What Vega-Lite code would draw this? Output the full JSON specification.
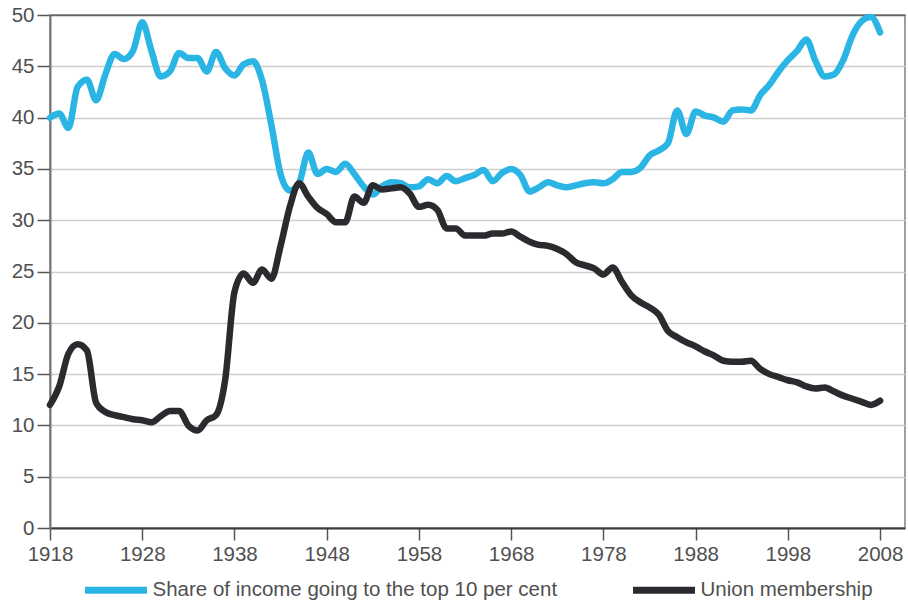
{
  "$schema": "https://vega.github.io/schema/vega-lite/v6.json",
  "width": 855,
  "height": 513,
  "autosize": {"type": "none"},
  "padding": {"left": 50, "top": 15, "right": 3, "bottom": 75},
  "background": "white",
  "config": {"view": {"stroke": "#808080", "strokeWidth": 1.5}, "font": "Liberation Sans"},
  "data": {"values": [
    {"year": 1918, "share": 40.0, "union": 12.0},
    {"year": 1919, "share": 40.4, "union": 13.8},
    {"year": 1920, "share": 39.0, "union": 17.0},
    {"year": 1921, "share": 43.0, "union": 17.9},
    {"year": 1922, "share": 43.7, "union": 17.3},
    {"year": 1923, "share": 41.7, "union": 12.2},
    {"year": 1924, "share": 44.2, "union": 11.3},
    {"year": 1925, "share": 46.2, "union": 11.0},
    {"year": 1926, "share": 45.7, "union": 10.8},
    {"year": 1927, "share": 46.5, "union": 10.6},
    {"year": 1928, "share": 49.3, "union": 10.5},
    {"year": 1929, "share": 46.5, "union": 10.3},
    {"year": 1930, "share": 44.0, "union": 10.9},
    {"year": 1931, "share": 44.5, "union": 11.4},
    {"year": 1932, "share": 46.3, "union": 11.4},
    {"year": 1933, "share": 45.8, "union": 10.0},
    {"year": 1934, "share": 45.8, "union": 9.5},
    {"year": 1935, "share": 44.5, "union": 10.5},
    {"year": 1936, "share": 46.4, "union": 11.0},
    {"year": 1937, "share": 44.8, "union": 14.5},
    {"year": 1938, "share": 44.1, "union": 23.0},
    {"year": 1939, "share": 45.2, "union": 24.8},
    {"year": 1940, "share": 45.5, "union": 23.9},
    {"year": 1941, "share": 43.6, "union": 25.2},
    {"year": 1942, "share": 39.3, "union": 24.3},
    {"year": 1943, "share": 34.5, "union": 27.5},
    {"year": 1944, "share": 32.9, "union": 31.3},
    {"year": 1945, "share": 33.6, "union": 33.6},
    {"year": 1946, "share": 36.6, "union": 32.3},
    {"year": 1947, "share": 34.5, "union": 31.2},
    {"year": 1948, "share": 35.0, "union": 30.6},
    {"year": 1949, "share": 34.7, "union": 29.8},
    {"year": 1950, "share": 35.5, "union": 29.8},
    {"year": 1951, "share": 34.5, "union": 32.3},
    {"year": 1952, "share": 33.3, "union": 31.7},
    {"year": 1953, "share": 32.5, "union": 33.4},
    {"year": 1954, "share": 33.3, "union": 33.0},
    {"year": 1955, "share": 33.7, "union": 33.1},
    {"year": 1956, "share": 33.6, "union": 33.2},
    {"year": 1957, "share": 33.2, "union": 32.6},
    {"year": 1958, "share": 33.3, "union": 31.3},
    {"year": 1959, "share": 34.0, "union": 31.5},
    {"year": 1960, "share": 33.6, "union": 31.0},
    {"year": 1961, "share": 34.3, "union": 29.2},
    {"year": 1962, "share": 33.8, "union": 29.2},
    {"year": 1963, "share": 34.1, "union": 28.5},
    {"year": 1964, "share": 34.4, "union": 28.5},
    {"year": 1965, "share": 34.9, "union": 28.5},
    {"year": 1966, "share": 33.8, "union": 28.7},
    {"year": 1967, "share": 34.6, "union": 28.7},
    {"year": 1968, "share": 35.0, "union": 28.9},
    {"year": 1969, "share": 34.4, "union": 28.4},
    {"year": 1970, "share": 32.8, "union": 27.9},
    {"year": 1971, "share": 33.2, "union": 27.6},
    {"year": 1972, "share": 33.7, "union": 27.5},
    {"year": 1973, "share": 33.4, "union": 27.2},
    {"year": 1974, "share": 33.2, "union": 26.7},
    {"year": 1975, "share": 33.4, "union": 25.9},
    {"year": 1976, "share": 33.6, "union": 25.6},
    {"year": 1977, "share": 33.7, "union": 25.3},
    {"year": 1978, "share": 33.6, "union": 24.7},
    {"year": 1979, "share": 34.0, "union": 25.4},
    {"year": 1980, "share": 34.7, "union": 24.0},
    {"year": 1981, "share": 34.7, "union": 22.7},
    {"year": 1982, "share": 35.1, "union": 22.0},
    {"year": 1983, "share": 36.3, "union": 21.5},
    {"year": 1984, "share": 36.8, "union": 20.8},
    {"year": 1985, "share": 37.5, "union": 19.2},
    {"year": 1986, "share": 40.7, "union": 18.6},
    {"year": 1987, "share": 38.4, "union": 18.1},
    {"year": 1988, "share": 40.6, "union": 17.7},
    {"year": 1989, "share": 40.2, "union": 17.2},
    {"year": 1990, "share": 40.0, "union": 16.8},
    {"year": 1991, "share": 39.6, "union": 16.3},
    {"year": 1992, "share": 40.7, "union": 16.2},
    {"year": 1993, "share": 40.8, "union": 16.2},
    {"year": 1994, "share": 40.7, "union": 16.3},
    {"year": 1995, "share": 42.2, "union": 15.5},
    {"year": 1996, "share": 43.2, "union": 15.0},
    {"year": 1997, "share": 44.5, "union": 14.7},
    {"year": 1998, "share": 45.6, "union": 14.4},
    {"year": 1999, "share": 46.5, "union": 14.2},
    {"year": 2000, "share": 47.6, "union": 13.8},
    {"year": 2001, "share": 45.5, "union": 13.6},
    {"year": 2002, "share": 44.0, "union": 13.7},
    {"year": 2003, "share": 44.2, "union": 13.3},
    {"year": 2004, "share": 45.6, "union": 12.9},
    {"year": 2005, "share": 48.0, "union": 12.6},
    {"year": 2006, "share": 49.4, "union": 12.3},
    {"year": 2007, "share": 49.8, "union": 12.0},
    {"year": 2008, "share": 48.3, "union": 12.4}
  ]},
  "transform": [{"fold": ["share", "union"], "as": ["series", "value"]}],
  "mark": {"type": "line", "interpolate": "monotone", "strokeWidth": 6.5, "strokeJoin": "round", "strokeCap": "round"},
  "encoding": {
    "x": {
      "field": "year", "type": "quantitative",
      "scale": {"domain": [1918, 2010.7], "nice": false, "zero": false},
      "axis": {
        "title": null,
        "values": [1918, 1928, 1938, 1948, 1958, 1968, 1978, 1988, 1998, 2008],
        "format": "d", "grid": false,
        "tickSize": 12, "tickWidth": 1.5, "tickColor": "#555555",
        "domainColor": "#3a3a3a", "domainWidth": 2,
        "labelFontSize": 20.5, "labelColor": "#505050", "labelPadding": 4,
        "labelFlush": false, "labelOverlap": false
      }
    },
    "y": {
      "field": "value", "type": "quantitative",
      "scale": {"domain": [0, 50], "nice": false},
      "axis": {
        "title": null,
        "values": [0, 5, 10, 15, 20, 25, 30, 35, 40, 45, 50],
        "grid": true,
        "gridColor": {"condition": {"test": "datum.value === 50", "value": "#666666"}, "value": "#cfcfcf"},
        "gridWidth": 1.5,
        "tickSize": 13, "tickWidth": 1.5, "tickColor": "#555555",
        "domainColor": "#777777", "domainWidth": 2,
        "labelFontSize": 20.5, "labelColor": "#505050", "labelPadding": 3,
        "labelFlush": false, "labelOverlap": false
      }
    },
    "color": {
      "field": "series", "type": "nominal",
      "scale": {"domain": ["share", "union"], "range": ["#2bb5e5", "#2b2b2f"]},
      "legend": {
        "title": null, "orient": "none", "legendX": 31.5, "legendY": 540.5,
        "direction": "horizontal", "symbolType": "stroke", "symbolSize": 3844,
        "symbolStrokeWidth": 7, "labelFontSize": 20.5, "labelColor": "#505050",
        "labelLimit": 700, "labelOffset": 2, "columnPadding": 61, "padding": 0,
        "labelExpr": "datum.label === 'share' ? 'Share of income going to the top 10 per cent' : 'Union membership'"
      }
    }
  }
}
